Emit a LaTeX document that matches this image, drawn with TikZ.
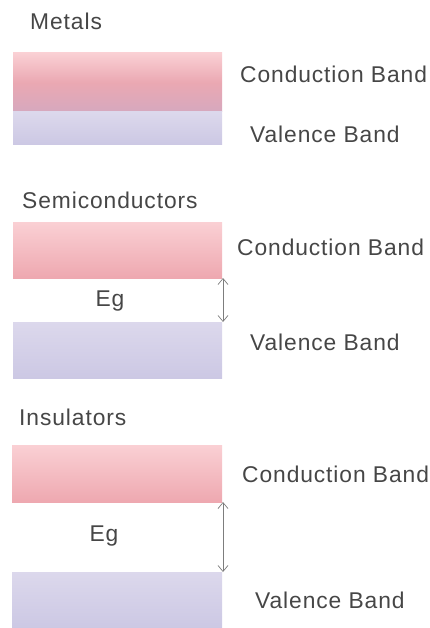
\documentclass[tikz,border=0pt]{standalone}
\usepackage{fontspec}
\setmainfont[LetterSpace=4]{Liberation Sans}
\usetikzlibrary{arrows.meta}
\definecolor{cbtop}{RGB}{250,208,212}
\definecolor{cbbot}{RGB}{238,168,176}
\definecolor{vbtop}{RGB}{220,216,236}
\definecolor{vbbot}{RGB}{204,200,228}
\definecolor{mauve}{RGB}{214,168,190}
\definecolor{txt}{RGB}{70,70,70}
\definecolor{arr}{RGB}{125,125,125}
\begin{document}
\begin{tikzpicture}[x=1pt,y=-1pt,
  band/.style={draw=none,inner sep=0pt,outer sep=0pt,minimum width=209pt,anchor=north west},
  cband/.style={band,top color=cbtop,bottom color=cbbot},
  vband/.style={band,top color=vbtop,bottom color=vbbot},
  lbl/.style={inner sep=0pt,anchor=base west,text=txt,font=\fontsize{22.8}{26}\selectfont},
  eg/.style={inner sep=0pt,anchor=base,text=txt,font=\fontsize{22.8}{26}\selectfont},
  gap/.style={draw=arr,line width=0.7pt,{Straight Barb[length=6pt,width=10pt]}-{Straight Barb[length=6pt,width=10pt]}}]
\useasboundingbox (0,0) rectangle (430,628);
% Metals
\node[lbl] (mt) at (30,30) {Metals};
\node[band,minimum height=59pt,top color=cbtop,bottom color=mauve,middle color=cbbot!85!mauve] (mcb) at (13,53) {};
\node[vband,minimum height=33pt] (mvb) at (13,112) {};
\node[lbl] (mcbl) at (240,83) {Conduction Band};
\node[lbl] (mvbl) at (250,143) {Valence Band};
% Semiconductors
\node[lbl] (st) at (22,208) {Semiconductors};
\node[cband,minimum height=56pt] (scb) at (13,222) {};
\node[vband,minimum height=56pt] (svb) at (13,322) {};
\node[lbl] (scbl) at (237,255) {Conduction Band};
\node[lbl] (svbl) at (250,350) {Valence Band};
\node[eg] (seg) at (110,306) {Eg};
\draw[gap] ([xshift=1pt]scb.south east) -- ([xshift=1pt]svb.north east);
% Insulators
\node[lbl] (it) at (19,425) {Insulators};
\node[cband,minimum height=57pt,minimum width=210pt] (icb) at (12,445) {};
\node[vband,minimum height=56pt,minimum width=210pt] (ivb) at (12,572) {};
\node[lbl] (icbl) at (242,482) {Conduction Band};
\node[lbl] (ivbl) at (255,608) {Valence Band};
\node[eg] (ieg) at (104,541) {Eg};
\draw[gap] ([xshift=1pt]icb.south east) -- ([xshift=1pt]ivb.north east);
\end{tikzpicture}
\end{document}
